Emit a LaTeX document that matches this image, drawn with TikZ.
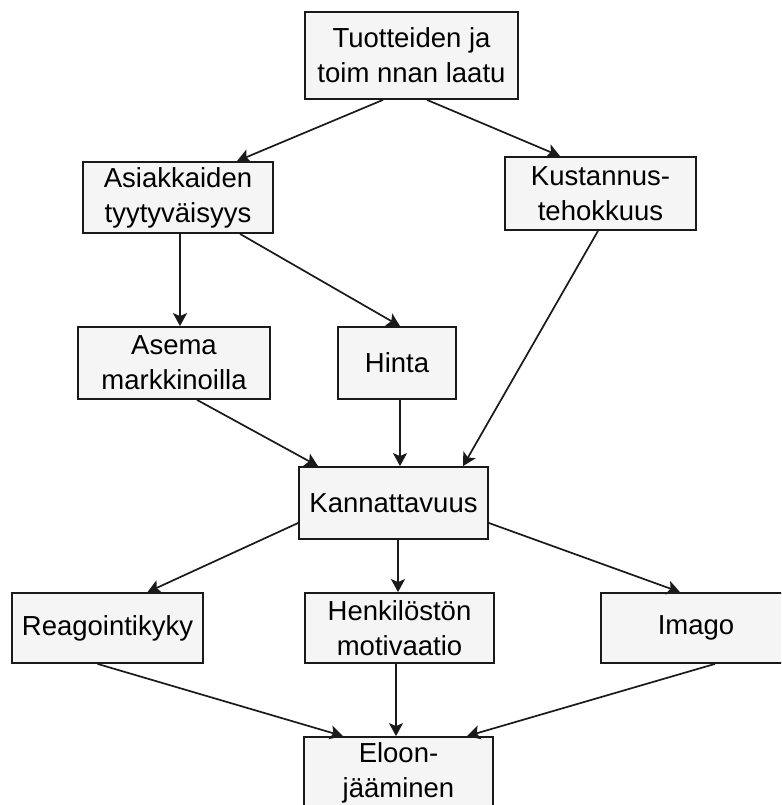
\documentclass[tikz,border=0pt]{standalone}
\usepackage{fontspec}
\setmainfont{Liberation Sans}
\usetikzlibrary{arrows.meta}
\definecolor{boxfill}{HTML}{F5F5F5}
\definecolor{edge}{HTML}{1A1A1A}
\tikzset{
  box/.style={draw=edge, line width=1.8pt, fill=boxfill, inner sep=0pt, align=center,
    font=\fontsize{27.5}{35}\selectfont},
  arr/.style={draw=edge, line width=1.7pt, -{Stealth[length=13pt,width=14pt,inset=3pt]}},
}
\begin{document}
\begin{tikzpicture}[x=1pt,y=-1pt]
\useasboundingbox (0,0) rectangle (781,805);
\clip (0,0) rectangle (781,805);
\fill[white] (0,0) rectangle (781,805);
\node[box, minimum width=213pt, minimum height=87pt] (top) at (411.5,55.5) {Tuotteiden ja\\toim nnan laatu};
\node[box, minimum width=190pt, minimum height=71pt] (asi) at (178,197.5) {Asiakkaiden\\tyytyväisyys};
\node[box, minimum width=191pt, minimum height=73pt] (kus) at (600.5,193.5) {Kustannus-\\tehokkuus};
\node[box, minimum width=192pt, minimum height=72pt] (asema) at (174,363) {Asema\\markkinoilla};
\node[box, minimum width=118pt, minimum height=72pt] (hinta) at (397,363) {Hinta};
\node[box, minimum width=189pt, minimum height=72pt] (kan) at (393.5,503) {Kannattavuus};
\node[box, minimum width=191pt, minimum height=70pt] (rea) at (107.5,628) {Reagointikyky};
\node[box, minimum width=189pt, minimum height=70pt] (hen) at (399.5,628) {Henkilöstön\\motivaatio};
\node[box, minimum width=190pt, minimum height=70pt] (ima) at (696,628) {Imago};
\node[box, minimum width=189pt, minimum height=71pt] (elo) at (398.5,772.5) {Eloon-\\jääminen};

\draw[arr] ([xshift=-28.5pt]top.south) -- ([xshift=59pt]asi.north);
\draw[arr] ([xshift=15.5pt]top.south) -- ([xshift=-40.5pt]kus.north);
\draw[arr] ([xshift=2pt]asi.south) -- ([xshift=6pt]asema.north);
\draw[arr] ([xshift=62pt]asi.south) -- ([xshift=3pt]hinta.north);
\draw[arr] ([xshift=23pt]asema.south) -- ([xshift=-75.5pt]kan.north);
\draw[arr] ([xshift=3pt]hinta.south) -- ([xshift=6.5pt]kan.north);
\draw[arr] ([xshift=-2.5pt]kus.south) -- ([xshift=69.5pt]kan.north);
\draw[arr] ([yshift=-20pt]kan.west) -- ([xshift=40pt]rea.north);
\draw[arr] ([xshift=4.5pt]kan.south) -- ([xshift=-1.5pt]hen.north);
\draw[arr] ([yshift=-20pt]kan.east) -- ([xshift=-16pt]ima.north);
\draw[arr] ([xshift=-10pt]rea.south) -- ([xshift=-55.5pt]elo.north);
\draw[arr] ([xshift=-3.5pt]hen.south) -- ([xshift=-2.5pt]elo.north);
\draw[arr] ([xshift=19pt]ima.south) -- ([xshift=68.5pt]elo.north);
\end{tikzpicture}
\end{document}
